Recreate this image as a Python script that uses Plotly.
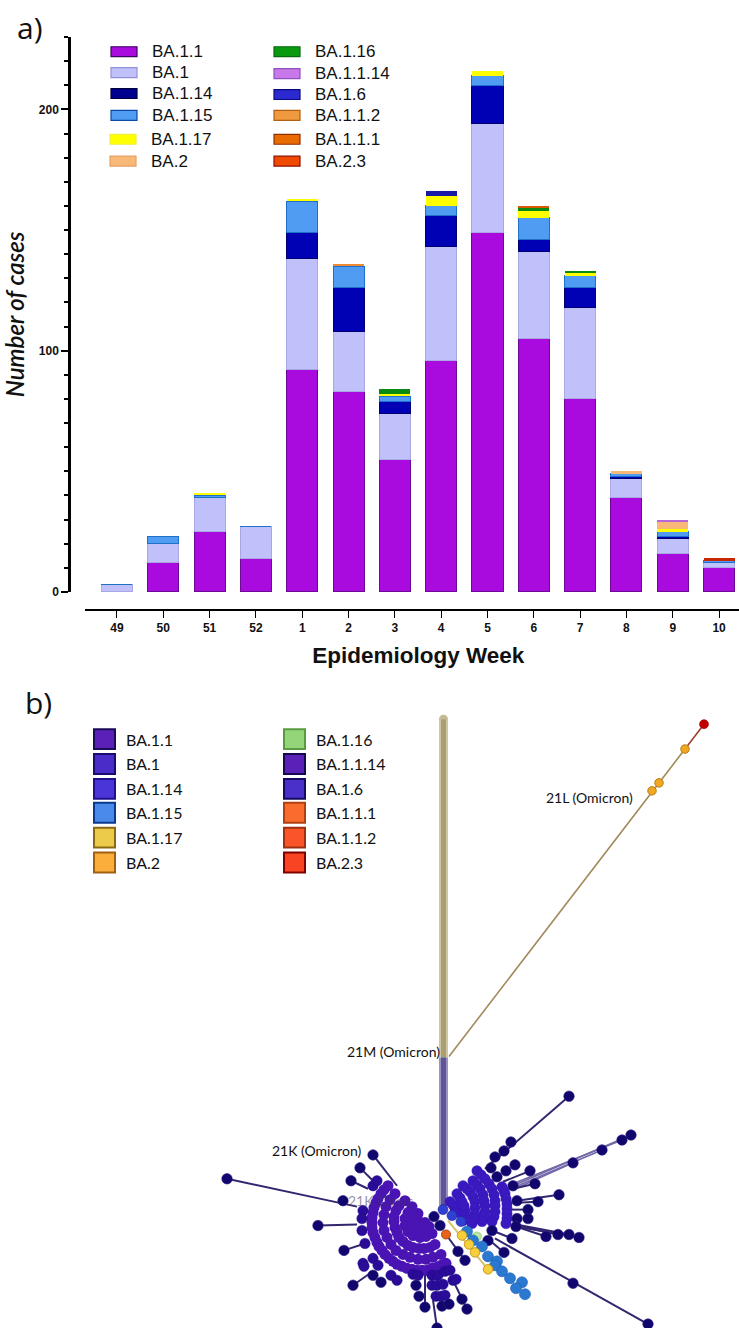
import plotly.graph_objects as go

# ---------- panel a data ----------
weeks = ["49","50","51","52","1","2","3","4","5","6","7","8","9","10"]
BA_1_1   = [0,12,25,14,92,83,55,96,149,105,80,39,16,10]
BA_1     = [3,8,14,13,46,25,19,47,45,36,38,8,6,2]
BA_1_14  = [0,0,0,0,11,18,5,13,16,5,8,1,1,0]
BA_1_15  = [0,3,1,0,13,9,2,4,4,9,5,1,2,1]
BA_1_17  = [0,0,1,0,1,0,1,4,2,3,1,0,1,0]
BA_2     = [0,0,0,0,0,0,0,0,0,0,0,1,3,0]
BA_1_16  = [0,0,0,0,0,0,2,0,0,1,1,0,0,0]
BA_1_1_14= [0,0,0,0,0,0,0,0,0,0,0,0,1,0]
BA_1_6   = [0,0,0,0,0,0,0,2,0,0,0,0,0,0]
BA_1_1_2 = [0,0,0,0,0,1,0,0,0,0,0,0,0,0]
BA_1_1_1 = [0,0,0,0,0,0,0,0,0,1,0,0,0,0]
BA_2_3   = [0,0,0,0,0,0,0,0,0,0,0,0,0,1]

series_a = [
 ("BA.1.1",BA_1_1,"#a90ade","#6c0a96",1),
 ("BA.1",BA_1,"#c0c0fb","#a8a8e4",1),
 ("BA.1.14",BA_1_14,"#0000b4","#000070",1),
 ("BA.1.15",BA_1_15,"#4f9cf2","#1f70c8",1),
 ("BA.1.17",BA_1_17,"#ffff00","#ffff00",0),
 ("BA.2",BA_2,"#f8b878","#f8b878",0),
 ("BA.1.16",BA_1_16,"#0a8a10","#0a8a10",0),
 ("BA.1.1.14",BA_1_1_14,"#b868d8","#b868d8",0),
 ("BA.1.6",BA_1_6,"#1a1aa8","#1a1aa8",0),
 ("BA.1.1.2",BA_1_1_2,"#ee8a30","#ee8a30",0),
 ("BA.1.1.1",BA_1_1_1,"#d85a00","#d85a00",0),
 ("BA.2.3",BA_2_3,"#c82800","#c82800",0),
]
# ---------- panel b data ----------
left_arc_1 = [(388,1192),(384,1196),(381,1200),(378,1205),(376,1209),(374,1214),(373,1219),(372,1224),(372,1229),(372,1234),(373,1239),(375,1244),(377,1249),(379,1253),(382,1257),(385,1261),(389,1265),(393,1268),(397,1271),(402,1273),(407,1275),(412,1276),(417,1277),(422,1277),(427,1277),(432,1275),(437,1274),(441,1272),(446,1270)]
left_arc_2 = [(395,1200),(390,1206),(386,1213),(384,1221),(383,1229),(384,1237),(387,1244),(391,1251),(396,1257),(403,1261),(410,1264),(418,1266),(426,1266),(433,1264),(441,1261)]
left_arc_3 = [(405,1207),(399,1212),(396,1217),(394,1223),(394,1228),(395,1234),(397,1239),(399,1244),(403,1248),(408,1252),(413,1254),(419,1255),(424,1255),(430,1254),(435,1251)]
left_arc_4 = [(412,1213),(408,1219),(405,1225),(405,1232),(408,1238),(413,1242),(420,1244),(426,1243),(432,1240)]
left_core  = [(418,1220),(414,1224),(413,1230),(417,1235),(424,1236),(429,1233),(425,1229),(419,1228),(411,1235),(416,1240)]
left_rows  = [(373,1192),(377,1187),(363,1217),(362,1225),(362,1237),(365,1250),(373,1265),(378,1272),(363,1270),(364,1273),(391,1282),(397,1287),(413,1281),(418,1282),(432,1282),(438,1282),(445,1278),(450,1277),(432,1292),(437,1292),(443,1291),(436,1303),(441,1303),(445,1302),(453,1287),(456,1286)]

right_arc_1 = [(502,1193),(504,1197),(505,1200),(506,1205),(507,1210),(507,1215),(507,1220),(507,1225),(506,1230)]
right_arc_2 = [(477,1177),(481,1181),(485,1185),(489,1190),(492,1195),(494,1201),(495,1207),(495,1212),(495,1218),(494,1223),(492,1228)]
right_arc_3 = [(473,1187),(477,1191),(480,1195),(483,1201),(484,1207),(485,1212),(485,1218),(484,1223),(482,1228)]
right_arc_4 = [(463,1192),(467,1195),(470,1198),(473,1203),(475,1208),(475,1214),(475,1220),(474,1225),(472,1230)]
right_arc_5 = [(457,1200),(460,1204),(462,1208),(464,1212),(465,1217),(465,1222),(463,1227)]
right_arc_6 = [(450,1208),(453,1211),(455,1215),(456,1219)]
ba1_nodes   = [(452,1222),(461,1228),(443,1216)]

outer_nodes = [(373,1161),(360,1174),(351,1187),(227,1185),(343,1207),(318,1232),(344,1257),(353,1292),(373,1282),(381,1289),(416,1292),(419,1303),(425,1314),(442,1313),(449,1311),(437,1335),(434,1223),(440,1232),(458,1258),(465,1267),(462,1306),(467,1316),
 (569,1102),(511,1148),(504,1157),(495,1163),(491,1174),(497,1183),(506,1177),(515,1171),(631,1141),(622,1146),(602,1156),(573,1169),(530,1177),(513,1192),(535,1190),(559,1201),(538,1208),(517,1207),(528,1216),(528,1225),(517,1225),(516,1233),(546,1243),(558,1241),(569,1241),(579,1244),(512,1245),(504,1259),(492,1237),(488,1247),(573,1290),(648,1331)]
ba115_nodes = [(467,1238),(473,1247),(482,1253),(488,1263),(497,1268),(495,1272),(502,1278),(510,1285),(522,1289),(516,1295),(525,1301)]
ba117_nodes = [(462,1242),(469,1251),(475,1259),(488,1276)]
ba116_nodes = [(477,1243)]
ba111_nodes = [(446,1241)]
ba2_nodes   = [(652,795),(659,787),(685,753)]
ba23_nodes  = [(704,728)]
trunk_top   = [(443.5,723)]

dark_edges = [((373,1161),(397,1192)),((360,1174),(373,1187)),((351,1187),(368,1195)),((227,1185),(357,1213)),((318,1232),(357,1231)),((344,1257),(365,1250)),((353,1292),(373,1278)),((425,1277),(425,1314)),((433,1307),(437,1335)),((453,1287),(467,1316)),
 ((569,1102),(485,1175)),((530,1177),(503,1188)),((535,1190),(513,1195)),((559,1201),(517,1207)),((538,1208),(517,1209)),((528,1216),(507,1216)),((516,1233),(546,1243)),((516,1232),(558,1241)),((516,1231),(569,1241)),((516,1233),(579,1244)),((512,1245),(492,1237)),((504,1259),(491,1248)),((495,1245),(648,1331))]
pale_edges = [((511,1148),(485,1175)),((631,1141),(513,1192)),((622,1146),(513,1190)),((602,1156),(513,1194)),((573,1169),(513,1196))]
tan_edges  = [((448,1227),(488,1276))]
orange_edges = [((446,1241),(465,1267))]

# ---------- helpers ----------
def xs(p): return [a for a,_ in p]
def ys(p): return [b for _,b in p]
def seg(edges):
    X,Y=[],[]
    for (a,b) in edges:
        X+= [a[0],b[0],None]; Y+=[a[1],b[1],None]
    return X,Y

W,H=739,1335
fig=go.Figure()
for name,vals,col,lc,lw in series_a:
    fig.add_bar(x=weeks,y=vals,name=name,width=0.67,marker=dict(color=col,line=dict(color=lc,width=lw)),xaxis="x",yaxis="y",showlegend=False)

def line(X,Y,color,width):
    fig.add_scatter(x=X,y=Y,mode="lines",line=dict(color=color,width=width),xaxis="x2",yaxis="y2",showlegend=False,hoverinfo="skip")
def nodes(p,color,lc,size,lw=0.8,name=None):
    fig.add_scatter(x=xs(p),y=ys(p),mode="markers",marker=dict(color=color,size=size,line=dict(color=lc,width=lw)),xaxis="x2",yaxis="y2",showlegend=False,name=name)

trunk_x=[443.5,443.5]
tan_y=[723,1063]; pur_y=[1063,1212]
nodes(trunk_top,"#c4ba94","#c4ba94",9,0,"21M")
line(trunk_x,tan_y,"#cfc6a2",9); line(trunk_x,tan_y,"#ab9f72",5)
line(trunk_x,pur_y,"#9a94c2",9); line(trunk_x,pur_y,"#5f5597",5)
line([449,685],[1062,753],"#a08a58",1.6)
line([685,704],[753,728],"#9a4030",1.6)
X,Y=seg(pale_edges); line(X,Y,"#7268a8",1.6)
X,Y=seg(dark_edges); line(X,Y,"#322670",2)
X,Y=seg(tan_edges); line(X,Y,"#d8c070",2)
X,Y=seg(orange_edges); line(X,Y,"#322670",2)

for arc in [left_arc_1,left_arc_2,left_arc_3,left_arc_4,left_core]:
    nodes(arc,"#4a14b4","#4a14b4",11,0,"BA.1.1")
nodes(left_rows,"#2a0c98","#1c0a80",10.5,0.4,"BA.1.1")
for arc in [right_arc_1,right_arc_2,right_arc_3,right_arc_4,right_arc_5,right_arc_6]:
    nodes(arc,"#3a1ac0","#3216a8",10.5,0.3,"BA.1")
nodes(ba1_nodes,"#3040d0","#2020a0",10,0.6,"BA.1")
nodes(outer_nodes,"#11056e","#2a2080",10.5,0.6,"BA.1.14")
nodes(ba116_nodes,"#b8e8a0","#80c060",9,0.6,"BA.1.16")
nodes(ba115_nodes,"#2a78d0","#1a60b8",11,0.6,"BA.1.15")
nodes(ba117_nodes,"#f7cf3a","#c89a20",9.5,1,"BA.1.17")
nodes(ba111_nodes,"#e8641a","#b04010",9,1,"BA.1.1.1")
nodes(ba2_nodes,"#eea823","#c07a10",8.5,1,"BA.2")
nodes(ba23_nodes,"#c00000","#a00000",9,0.6,"BA.2.3")

shapes=[]; ann=[]
def px(x): return x/W
def py(y): return 1-y/H
def txt(x,y,t,size,family,color="#111",xanchor="left",**kw):
    ann.append(dict(x=px(x-2),y=py(y),xref="paper",yref="paper",text=t,showarrow=False,xanchor=xanchor,yanchor="middle",font=dict(size=size,family=family,color=color),**kw))

leg_a=[("BA.1.1",111,52,"#a90ade","#3a0560"),("BA.1",111,73,"#c0c0fb","#9090d8"),("BA.1.14",111,94,"#00008f","#000040"),("BA.1.15",111,116,"#4f9cf2","#0a4aa0"),("BA.1.17",110,140,"#ffff00","#f0f040"),("BA.2",110,162,"#f8b878","#e8a060"),
       ("BA.1.16",274,52,"#0a9a10","#0a6a10"),("BA.1.1.14",274,74,"#c878e8","#9050c0"),("BA.1.6",274,95,"#2a2ad0","#0a0a80"),("BA.1.1.2",274,116,"#f09a40","#b06010"),("BA.1.1.1",274,140,"#e86a00","#903000"),("BA.2.3",274,162,"#f04a00","#901000")]
for t,x,y,c,l in leg_a:
    shapes.append(dict(type="rect",xref="paper",yref="paper",x0=px(x),x1=px(x+26),y0=py(y-5),y1=py(y+5),fillcolor=c,line=dict(color=l,width=1.2)))
    txt(x+41,y,t,17,"Liberation Sans")

leg_b=[("BA.1.1",93,743,"#5a20b8","#1c0c58"),("BA.1",93,768,"#4a2cc8","#180c70"),("BA.1.14",93,793,"#4a35d8","#201090"),("BA.1.15",93,817,"#4a8ae8","#0a3a90"),("BA.1.17",93,842,"#eccb4a","#8a6a10"),("BA.2",93,867,"#fbae3c","#a06010"),
       ("BA.1.16",283,743,"#95d57a","#5a9a40"),("BA.1.1.14",283,768,"#5a20b8","#150a50"),("BA.1.6",283,793,"#4a30c8","#150a60"),("BA.1.1.1",283,817,"#f96c2e","#b04010"),("BA.1.1.2",283,842,"#f95528","#a03010"),("BA.2.3",283,867,"#f84423","#800000")]
for t,x,y,c,l in leg_b:
    shapes.append(dict(type="rect",xref="paper",yref="paper",x0=px(x+1),x1=px(x+22),y0=py(y-10),y1=py(y+10),fillcolor=c,line=dict(color=l,width=2)))
    txt(x+33,y,t,16,"Lato")

txt(17,28,"a)",30,"Open Sans")
txt(25,706,"b)",30,"Open Sans")
txt(546,802,"21L (Omicron)",14,"Lato")
txt(347,1057,"21M (Omicron)",14,"Lato")
txt(272,1157,"21K (Omicron)",14,"Lato")
txt(348,1207,"21K (Omic",14,"Lato",color="rgba(60,50,90,0.55)")

y0=595;yt=37;pxu=2.425
fig.update_layout(
    width=W,height=H,margin=dict(l=0,r=0,t=0,b=0),paper_bgcolor="white",plot_bgcolor="rgba(0,0,0,0)",
    barmode="stack",bargap=0.33,shapes=shapes,annotations=ann,showlegend=False,
    xaxis=dict(type="category",domain=[85/W,1],range=[-0.69,13.43],anchor="free",position=1-613/H,
        showline=True,linecolor="black",linewidth=2,ticks="outside",ticklen=7,tickwidth=1,tickcolor="black",showgrid=False,
        tickangle=0,tickfont=dict(size=12,family="Liberation Sans Narrow, Liberation Sans",color="#111",weight=700),
        title=dict(text="&nbsp;&nbsp;Epidemiology Week",standoff=12,font=dict(size=22.5,family="Liberation Sans",color="#111",weight=700))),
    yaxis=dict(domain=[1-y0/H,1-yt/H],range=[0,(y0-yt)/pxu],anchor="free",position=69/W,
        showline=True,linecolor="black",linewidth=2.5,showgrid=False,zeroline=False,
        tickvals=[0,100,200],ticktext=["0","100","200"],ticks="outside",ticklen=7,tickwidth=1.5,tickcolor="black",
        minor=dict(tickvals=[v for v in range(10,231,10) if v%100],ticks="outside",ticklen=4,tickwidth=1.5,tickcolor="black",showgrid=False),
        tickfont=dict(size=12,family="Liberation Sans Narrow, Liberation Sans",color="#111",weight=700),
        title=dict(text="Number of cases",standoff=6,font=dict(size=24,family="Lato",color="#111",style="italic",weight=600))),
    xaxis2=dict(domain=[0,1],range=[0,W],visible=False,anchor="y2"),
    yaxis2=dict(domain=[0,1-690/H],range=[H,690],visible=False,anchor="x2"),
)
fig.write_html("out.html",config=dict(displayModeBar=False),
    post_script="document.body.style.margin='0';document.documentElement.style.overflow='hidden';document.body.style.height='1335px';")
